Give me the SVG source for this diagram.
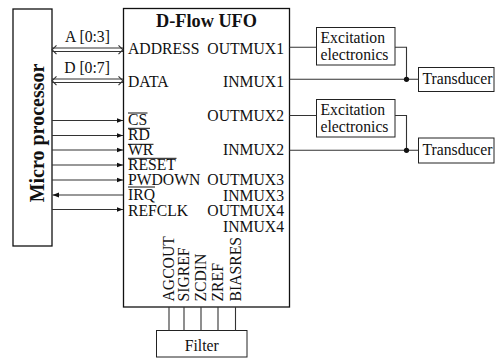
<svg xmlns="http://www.w3.org/2000/svg" width="495" height="358" viewBox="0 0 495 358">
<defs>
<marker id="ah" markerWidth="7" markerHeight="6" refX="6.5" refY="3" orient="auto" markerUnits="userSpaceOnUse">
<path d="M0,0.5 L6.5,3 L0,5.5 Z" fill="#111"/>
</marker>
</defs>
<style>
.box{fill:#fff;stroke:#111;stroke-width:1.3}
.b2{fill:#fff;stroke:#222;stroke-width:1}
.t{font-family:"Liberation Serif","Times New Roman",serif;font-size:15.7px;fill:#111}
.tb{font-family:"Liberation Serif","Times New Roman",serif;font-weight:bold;fill:#111}
.r{text-anchor:end}
.m{text-anchor:middle}
.w{stroke:#333;stroke-width:1.1;fill:none}
.a{stroke:#333;stroke-width:1.1;fill:none;marker-end:url(#ah)}
.ol{stroke:#111;stroke-width:1}
</style>
<rect width="495" height="358" fill="#fff"/>

<g id="microprocessor">
<rect class="box" x="13" y="9" width="39" height="237"/>
<text class="tb m" font-size="20" transform="translate(43.5,133) rotate(-90)">Micro processor</text>
</g>

<g id="dflow-ufo">
<rect class="box" x="123.5" y="8.5" width="166" height="298.5"/>
<text class="tb m" font-size="18.3" x="206.5" y="27">D-Flow UFO</text>
<text class="t" x="128" y="54">ADDRESS</text>
<text class="t" x="128" y="87">DATA</text>
<text class="t" x="128" y="125">CS</text>
<text class="t" x="128" y="140">RD</text>
<text class="t" x="128" y="155">WR</text>
<text class="t" x="128" y="169.5">RESET</text>
<text class="t" x="128" y="184.5">PWDOWN</text>
<text class="t" x="128" y="200">IRQ</text>
<text class="t" x="128" y="216">REFCLK</text>
<line class="ol" x1="128" y1="113" x2="147.5" y2="113"/>
<line class="ol" x1="128" y1="128.3" x2="150" y2="128.3"/>
<line class="ol" x1="128" y1="144.3" x2="153.5" y2="144.3"/>
<line class="ol" x1="128" y1="158.3" x2="176.5" y2="158.3"/>
<line class="ol" x1="128" y1="187" x2="155" y2="187"/>
<text class="t r" x="284" y="54">OUTMUX1</text>
<text class="t r" x="284" y="87">INMUX1</text>
<text class="t r" x="284" y="120.5">OUTMUX2</text>
<text class="t r" x="284" y="155">INMUX2</text>
<text class="t r" x="284" y="184.5">OUTMUX3</text>
<text class="t r" x="284" y="200.5">INMUX3</text>
<text class="t r" x="284" y="216">OUTMUX4</text>
<text class="t r" x="284" y="231.5">INMUX4</text>
<text class="t" transform="translate(174,301.5) rotate(-90)">AGCOUT</text>
<text class="t" transform="translate(189,301.5) rotate(-90)">SIGREF</text>
<text class="t" transform="translate(206,301.5) rotate(-90)">ZCDIN</text>
<text class="t" transform="translate(223,301.5) rotate(-90)">ZREF</text>
<text class="t" transform="translate(240.5,301.5) rotate(-90)">BIASRES</text>
</g>

<g id="excitation1">
<rect class="b2" x="316.5" y="27.5" width="78.5" height="37.5"/>
<text class="t" x="320.5" y="43">Excitation</text>
<text class="t" x="320.5" y="60">electronics</text>
</g>
<g id="excitation2">
<rect class="b2" x="316.5" y="99.5" width="78.5" height="37.5"/>
<text class="t" x="320.5" y="115">Excitation</text>
<text class="t" x="320.5" y="132">electronics</text>
</g>
<g id="transducer1">
<rect class="b2" x="418.5" y="67.5" width="75.5" height="24"/>
<text class="t" x="422.5" y="84">Transducer</text>
</g>
<g id="transducer2">
<rect class="b2" x="418.5" y="138" width="75.5" height="25"/>
<text class="t" x="422.5" y="155">Transducer</text>
</g>
<g id="filter">
<rect class="b2" x="156.5" y="330.5" width="90.5" height="26.5"/>
<text class="t m" x="201.7" y="351">Filter</text>
</g>

<g id="connectors">
<line class="w" x1="52" y1="48" x2="123" y2="48"/>
<line class="w" x1="52" y1="51.5" x2="123" y2="51.5"/>
<path class="w" d="M56.5,45.3 L52,49.75 L56.5,54.2 M118.5,45.3 L123,49.75 L118.5,54.2"/>
<text class="t m" x="87.5" y="41.5">A [0:3]</text>
<line class="w" x1="52" y1="79" x2="123" y2="79"/>
<line class="w" x1="52" y1="82.5" x2="123" y2="82.5"/>
<path class="w" d="M56.5,76.3 L52,80.75 L56.5,85.2 M118.5,76.3 L123,80.75 L118.5,85.2"/>
<text class="t m" x="87" y="72.5">D [0:7]</text>

<line class="a" x1="52" y1="120.5" x2="123" y2="120.5"/>
<line class="a" x1="52" y1="135.5" x2="123" y2="135.5"/>
<line class="a" x1="52" y1="150" x2="123" y2="150"/>
<line class="a" x1="52" y1="165" x2="123" y2="165"/>
<line class="a" x1="52" y1="180" x2="123" y2="180"/>
<line class="a" x1="123" y1="195" x2="52.5" y2="195"/>
<line class="a" x1="52" y1="209.5" x2="123" y2="209.5"/>

<path class="w" d="M289.5,47.3 H316.5 M395,47.3 H406.5 V79.3 M289.5,79.3 H418.5"/>
<path class="w" d="M289.5,115.5 H316.5 M395,115.5 H406.5 V150.3 M289.5,150.3 H418.5"/>
<circle cx="406.5" cy="79.3" r="2.6" fill="#111"/>
<circle cx="406.5" cy="150.3" r="2.6" fill="#111"/>

<path class="w" d="M169,307 V330.5 M184,307 V330.5 M201,307 V330.5 M218,307 V330.5 M235.5,307 V330.5"/>
</g>
</svg>
